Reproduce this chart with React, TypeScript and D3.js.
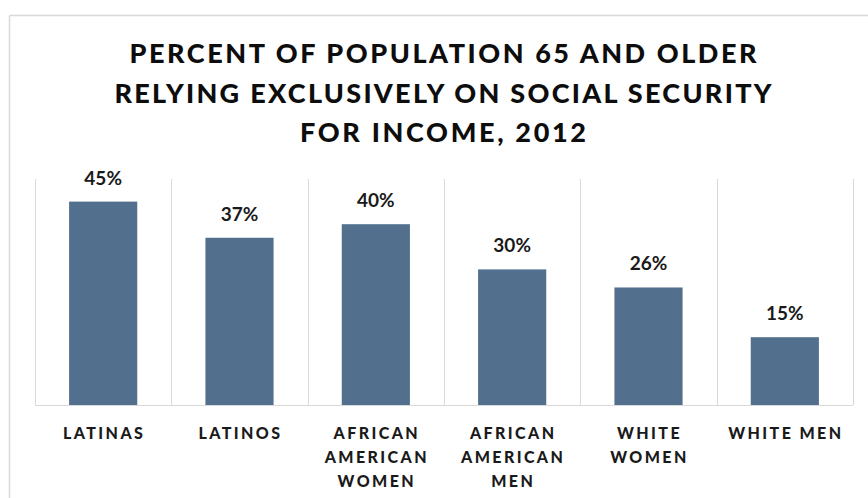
import React from "react";
import * as d3 from "d3";

const categories = ["LATINAS", "LATINOS", "AFRICAN AMERICAN WOMEN", "AFRICAN AMERICAN MEN", "WHITE WOMEN", "WHITE MEN"];
const categoryLines = [
  ["LATINAS"],
  ["LATINOS"],
  ["AFRICAN", "AMERICAN", "WOMEN"],
  ["AFRICAN", "AMERICAN", "MEN"],
  ["WHITE", "WOMEN"],
  ["WHITE MEN"],
];
const values = [45, 37, 40, 30, 26, 15];
const titleLines = [
  "PERCENT OF POPULATION 65 AND OLDER",
  "RELYING EXCLUSIVELY ON SOCIAL SECURITY",
  "FOR INCOME, 2012",
];
const titleWidths = [627, 657, 286];
const yDomain = [0, 50];

const W = 868;
const H = 498;
const FONT = "Lato, 'Open Sans', 'DejaVu Sans', sans-serif";
const BAR = "#52708E";
const GRID = "#D9D9D9";

export default function App() {
  const left = 35;
  const right = 853;
  const base = 405;
  const top = 179;

  const xOuter = d3.scaleBand<string>().domain(categories).range([left, right]).padding(0);
  const xBar = d3
    .scaleBand<string>()
    .domain(categories)
    .range([left, right])
    .paddingInner(0.5)
    .paddingOuter(0.25);
  const y = d3.scaleLinear().domain(yDomain).range([base, top]);

  const boundaries = categories.map((c) => xOuter(c) as number).concat([right]);

  return (
    <svg
      width={W}
      height={H}
      style={{ position: "absolute", left: 0, top: 0, display: "block", background: "#fff" }}
    >
      {/* outer frame */}
      <line x1={9.5} x2={W} y1={15.5} y2={15.5} stroke={GRID} strokeWidth={1.5} />
      <line x1={9.5} x2={9.5} y1={15.5} y2={H} stroke={GRID} strokeWidth={1.5} />

      {/* title */}
      {titleLines.map((t, i) => (
        <text
          key={t}
          x={443}
          y={63 + i * 39.5}
          textAnchor="middle"
          fontFamily={FONT}
          fontWeight={900}
          fontSize={27}
          fill="#0d0d0d"
          textLength={titleWidths[i]}
          lengthAdjust="spacing"
        >
          {t}
        </text>
      ))}

      {/* vertical gridlines at category boundaries */}
      {boundaries.map((bx, i) => (
        <line
          key={i}
          x1={Math.round(bx) + 0.5}
          x2={Math.round(bx) + 0.5}
          y1={y(yDomain[1])}
          y2={base}
          stroke={GRID}
          strokeWidth={1}
        />
      ))}

      {/* bars */}
      {categories.map((c, i) => (
        <rect
          key={c}
          x={xBar(c)}
          y={y(values[i])}
          width={xBar.bandwidth()}
          height={base - y(values[i])}
          fill={BAR}
        />
      ))}

      {/* baseline */}
      <line x1={left} x2={right} y1={base + 0.5} y2={base + 0.5} stroke={GRID} strokeWidth={1} />

      {/* value labels */}
      {categories.map((c, i) => (
        <text
          key={c}
          x={(xBar(c) as number) + xBar.bandwidth() / 2}
          y={y(values[i]) - 17}
          textAnchor="middle"
          fontFamily={FONT}
          fontWeight={700}
          fontSize={19}
          fill="#1a1a1a"
        >
          {values[i]}%
        </text>
      ))}

      {/* category labels */}
      {categories.map((c, i) => (
        <text
          key={c}
          textAnchor="middle"
          fontFamily={FONT}
          fontWeight={900}
          fontSize={16}
          letterSpacing={2.4}
          fill="#1a1a1a"
        >
          {categoryLines[i].map((ln, j) => (
            <tspan key={j} x={(xOuter(c) as number) + xOuter.bandwidth() / 2 + 1} y={439 + j * 24}>
              {ln}
            </tspan>
          ))}
        </text>
      ))}
    </svg>
  );
}
